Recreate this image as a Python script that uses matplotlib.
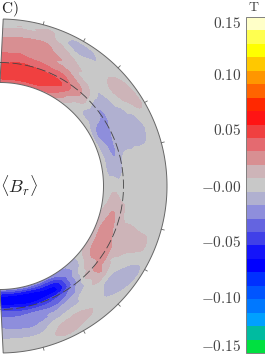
import numpy as np
import matplotlib
matplotlib.use('Agg')
import matplotlib.pyplot as plt
import matplotlib.tri as mtri
from matplotlib.colors import ListedColormap, BoundaryNorm
from matplotlib.patches import Polygon

plt.rcParams['mathtext.fontset'] = 'cm'

# colatitude of each row in degrees, radius of each column in pixels
colat = list(range(0, 185, 5))
radius = [104, 111, 118, 125, 132, 139, 146, 153, 160, 167]

# field, in mT
field_mt = [
    [35, 50, 54, 40, 34, 28, 20, 13, 5, 0],
    [35, 50, 55, 41, 34, 28, 21, 14, 6, 1],
    [34, 50, 56, 43, 33, 30, 22, 14, 6, 1],
    [33, 50, 54, 40, 28, 26, 22, 15, 7, 1],
    [32, 49, 53, 38, 27, 25, 20, 13, 6, 1],
    [28, 44, 50, 36, 25, 19, 12, 4, -6, -2],
    [24, 36, 46, 35, 24, 14, 7, -6, -11, -3],
    [5, 22, 33, 28, 15, 6, 1, -4, -9, -2],
    [-1, 7, 19, 20, 10, 3, 1, -1, -2, 0],
    [-4, 0, 7, 5, -1, -1, 3, 6, 4, 0],
    [-4, -9, -10, -14, -9, -5, 5, 11, 7, 0],
    [-4, -10, -17, -20, -13, -8, -1, 10, 10, 1],
    [-5, -20, -24, -19, -15, -11, -7, -1, 8, 1],
    [-5, -20, -25, -17, -15, -13, -11, -8, -2, 0],
    [-4, -15, -22, -14, -13, -12, -11, -9, -3, 0],
    [-3, -10, -20, -8, -5, -5, -5, -4, -1, 0],
    [-5, -8, -11, -6, -2, -1, -1, -1, 0, 0],
    [-2, -6.5, -8, -4, 0, 0, 0, 0, 0, 0],
    [0, 0, -1, 0, 0, 0, 0, 0, 0, 0],
    [1, 6, 7, 3, 1, 0, 0, 0, 0, 0],
    [4, 10, 13, 7, 2, 1, 0, 0, 0, 0],
    [6, 16, 20, 8, 4, 3, 2, 1, 0, 0],
    [8, 22, 23, 14, 11, 10, 9, 8, 3, 0],
    [8, 24, 27, 17, 12, 10, 9, 7, 2, 0],
    [7, 22, 28, 22, 10, 6, 2, -4, -7, -1],
    [5, 19, 24, 24, 8, 1, -7, -11, -9, -2],
    [4, 9, 14, 20, 19, 0, -10, -12, -7, -1],
    [-10, -8, 4, 12, 8, 1, -6, -9, -3, 0],
    [-18, -20, -14, -9, -5, 1, 0, 1, 1, 0],
    [-20, -33, -38, -27, -16, -6, 2, 8, 3, 0],
    [-25, -55, -66, -42, -24, -10, 3, 11, 7, 0],
    [-28, -62, -72, -48, -31, -16, -2, 10, 9, 0],
    [-28, -65, -76, -50, -30, -19, -7, 1, 5, 0],
    [-27, -70, -78, -52, -27, -23, -16, -7, 0, 0],
    [-28, -72, -76, -50, -30, -24, -18, -8, 0, 0],
    [-30, -72, -74, -46, -31, -24, -17, -7, 0, 0],
    [-30, -70, -72, -44, -30, -21, -14, -7, -1, 0],
]

cell_colors = [
    '#00e040', '#00bba0', '#00a0ff', '#0078ff', '#0055ff', '#0030ff', '#0000ff',
    '#1414fa', '#4040e8', '#6464e0', '#8e8edc', '#b0b0d0', '#c8c8c8',
    '#cdb4b8', '#d88f92', '#e46a70', '#f04040', '#ff1414', '#ff2800',
    '#ff6400', '#ff9600', '#ffc800', '#ffff00', '#ffff50', '#ffffc8',
]
tick_values = [0.1518, 0.1034, 0.0523, -0.0005, -0.052, -0.104, -0.149]
tick_labels = ['0.15', '0.10', '0.05', '-0.00', '-0.05', '-0.10', '-0.15']
tick_colat = [15, 30, 45, 60, 75, 105, 120, 135, 150, 165]
dashed_radius = 123.5

cx, cy = 0, 186
line_col = '#666666'
text_col = '#444444'

fig = plt.figure(figsize=(2.65, 3.54), dpi=100)
ax = fig.add_axes([0, 0, 1, 1])
ax.set_xlim(0, 265)
ax.set_ylim(354, 0)
ax.set_axis_off()

th, rr = np.meshgrid(np.array(colat, float), np.array(radius, float), indexing='ij')
Z = np.array(field_mt) / 1000.0

# matplotlib's cubic refiner rounds the contours, grid is in degrees and pixels
tri = mtri.Triangulation(th.ravel() / 5, rr.ravel() / 7)
refiner = mtri.UniformTriRefiner(tri)
tri_fine, z_fine = refiner.refine_field(Z.ravel(), subdiv=3)
t_fine = np.radians(tri_fine.x * 5)
r_fine = tri_fine.y * 7
x_fine = cx + r_fine * np.sin(t_fine)
y_fine = cy - r_fine * np.cos(t_fine)

levels = np.linspace(-0.15625, 0.15625, 26)
cmap = ListedColormap(cell_colors)
norm = BoundaryNorm(levels, cmap.N)
cf = ax.tricontourf(x_fine, y_fine, tri_fine.triangles, z_fine, levels=levels, cmap=cmap, norm=norm)

# shell outline, the cut edges lean a little in the original
arc = np.radians(np.linspace(1.1, 178.9, 200))
arc_in = np.radians(np.linspace(180, 0, 200))
outer = np.c_[cx + 167 * np.sin(arc), cy - 167 * np.cos(arc)]
inner = np.c_[cx + 103.5 * np.sin(arc_in), cy - 103.5 * np.cos(arc_in)]
shell = Polygon(np.vstack([outer, inner]), closed=True, fc='none', ec=line_col, lw=0.7, zorder=3)
ax.add_patch(shell)
cf.set_clip_path(shell)

for c in tick_colat:
    a = np.radians(c)
    ax.plot([cx + 167 * np.sin(a), cx + 170 * np.sin(a)],
            [cy - 167 * np.cos(a), cy - 170 * np.cos(a)], color=line_col, lw=0.6)

dash = np.radians(np.linspace(0, 180, 300))
ax.plot(cx + dashed_radius * np.sin(dash), cy - dashed_radius * np.cos(dash),
        color='#444444', lw=0.6, dashes=(11, 4), zorder=4)

ax.text(1, 9.5, r'$\mathrm{C)}$', fontsize=11, color='#222222', va='center', ha='left')
ax.text(0, 186, r'$\langle B_r\rangle$', fontsize=13, color='#222222', va='center', ha='left')
ax.text(253.5, 7, r'$\mathrm{T}$', fontsize=10, color=text_col, va='center', ha='center')

cax = fig.add_axes([246 / 265, 1 - 353 / 354, 19 / 265, 336 / 354])
cb = fig.colorbar(cf, cax=cax, ticks=tick_values)
cb.ax.yaxis.set_ticks_position('left')
cb.ax.set_yticklabels(['$' + t + '$' for t in tick_labels], fontsize=11, color=text_col)
cb.ax.tick_params(axis='y', length=0, pad=3.5)
cb.ax.minorticks_off()
cb.outline.set_edgecolor('#808080')
cb.outline.set_linewidth(0.7)

fig.savefig('out.png', dpi=100)
